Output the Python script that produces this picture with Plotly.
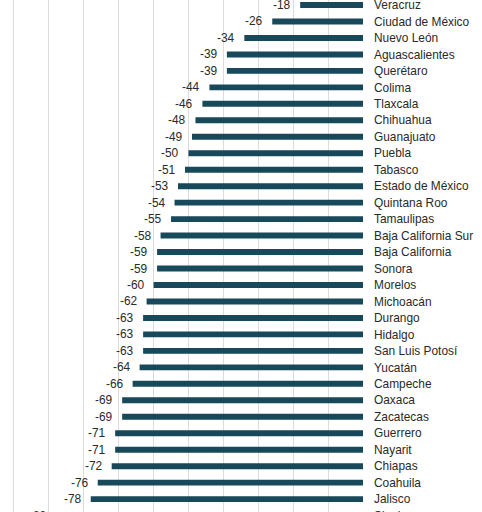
import plotly.graph_objects as go

states = ["Veracruz", "Ciudad de México", "Nuevo León", "Aguascalientes", "Querétaro",
          "Colima", "Tlaxcala", "Chihuahua", "Guanajuato", "Puebla", "Tabasco",
          "Estado de México", "Quintana Roo", "Tamaulipas", "Baja California Sur",
          "Baja California", "Sonora", "Morelos", "Michoacán", "Durango", "Hidalgo",
          "San Luis Potosí", "Yucatán", "Campeche", "Oaxaca", "Zacatecas", "Guerrero",
          "Nayarit", "Chiapas", "Coahuila", "Jalisco", "Sinaloa"]
values = [-18, -26, -34, -39, -39, -44, -46, -48, -49, -50, -51, -53, -54, -55, -58,
          -59, -59, -60, -62, -63, -63, -63, -64, -66, -69, -69, -71, -71, -72, -76,
          -78, -88]

BAR = "#17495a"
TXT = "#2a2a2a"
FONT = "Liberation Sans, Arial, sans-serif"
FS = 11.9

fig = go.Figure()
fig.add_trace(go.Bar(
    x=values, y=states, orientation="h",
    marker=dict(color=BAR, line=dict(width=0)),
    width=0.36, hoverinfo="skip",
))

for s, v in zip(states, values):
    fig.add_annotation(x=v, y=s, text=str(v), showarrow=False,
                       xanchor="right", yanchor="middle", xshift=-7,
                       font=dict(family=FONT, size=FS, color=TXT))

H = 530
fig.update_layout(
    width=482, height=H,
    margin=dict(l=0, r=119, t=0, b=0, autoexpand=False),
    paper_bgcolor="white", plot_bgcolor="white",
    showlegend=False,
    font=dict(family=FONT, size=FS, color=TXT),
    xaxis=dict(range=[-104, 0], dtick=10, tick0=0, showgrid=True,
               gridcolor="#dcdcdc", gridwidth=1, zeroline=False, automargin=False,
               showticklabels=False, ticks="", showline=False, fixedrange=True),
    yaxis=dict(type="category", categoryorder="array", categoryarray=states,
               range=[-0.304 + H / 16.47, -0.304], side="right", ticks="",
               automargin=False, ticklabelstandoff=10, showgrid=False,
               zeroline=False, showline=False, fixedrange=True,
               tickfont=dict(family=FONT, size=FS, color=TXT)),
)

fig.write_html(
    "out.html",
    config={"displayModeBar": False, "staticPlot": True},
    post_script="document.body.style.margin='0';document.body.style.overflow='hidden';"
                "document.documentElement.style.overflow='hidden';",
)
